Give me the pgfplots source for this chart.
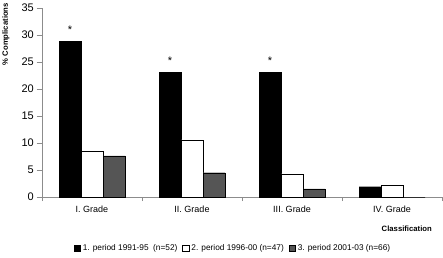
\documentclass[border=0pt]{standalone}
\usepackage{fontspec}
\setmainfont{Liberation Sans}
\usepackage{pgfplots}
\pgfplotsset{compat=1.18}
\definecolor{bargray}{RGB}{85,85,85}
\definecolor{axgray}{RGB}{140,140,140}
\pgfplotsset{sqleg/.style={legend image code/.code={\draw[##1,draw=black] (0pt,-3.3pt) rectangle (6.6pt,3.3pt);}}}
\begin{document}
\begin{tikzpicture}
\useasboundingbox (-42pt,-60pt) rectangle (401pt,197pt);
\begin{axis}[
  at={(0pt,0pt)}, anchor=south west,
  scale only axis, width=400pt, height=189pt,
  xmin=-0.5, xmax=3.5, ymin=0, ymax=35,
  axis x line=bottom, axis y line=left,
  axis line style={-, draw=axgray},
  ybar=0pt, bar width=22pt,
  ytick={0,5,...,35},
  xtick={0,1,2,3},
  xticklabels={I. Grade, II. Grade, III. Grade, IV. Grade},
  minor xtick={-0.5,0.5,1.5,2.5,3.5},
  tick align=outside,
  major tick length=5.5pt, minor tick length=4pt,
  tick style={draw=axgray},
  major x tick style={draw=none},
  /pgf/number format/assume math mode=true,
  yticklabel style={font=\fontsize{11}{12}\selectfont, inner sep=2.5pt},
  xticklabel style={font=\fontsize{9}{10}\selectfont},
  ylabel={\% Complications},
  ylabel style={at={(axis description cs:-0.09,0.862)}, anchor=center, font=\bfseries\fontsize{7.7}{9}\selectfont},
  xlabel={Classification},
  xlabel style={at={(axis description cs:0.975,-0.169)}, anchor=east, inner sep=0pt, font=\bfseries\fontsize{7.7}{9}\selectfont},
  legend columns=3,
  legend style={at={(axis description cs:0.4775,-0.27)}, anchor=center, draw=none, fill=none,
    font=\fontsize{8.3}{10}\selectfont, inner sep=0pt,
    /tikz/every even column/.append style={column sep=3pt}},
  clip=false,
]
\addplot[fill=black, draw=black, sqleg,
  nodes near coords, point meta=explicit symbolic,
  nodes near coords style={font=\fontsize{11}{12}\selectfont, anchor=base, inner sep=0pt, yshift=7.5pt}]
  coordinates {(0,28.8) [*] (1,23.1) [*] (2,23.1) [*] (3,1.9) []};
\addlegendentry{1. period 1991-95\ \ (n=52)}
\addplot[fill=white, draw=black, sqleg]
  coordinates {(0,8.5) (1,10.6) (2,4.3) (3,2.1)};
\addlegendentry{2. period 1996-00 (n=47)}
\addplot[fill=bargray, draw=black, sqleg]
  coordinates {(0,7.6) (1,4.5) (2,1.5) (3,0)};
\addlegendentry{3. period 2001-03 (n=66)}
\end{axis}
\end{tikzpicture}
\end{document}
